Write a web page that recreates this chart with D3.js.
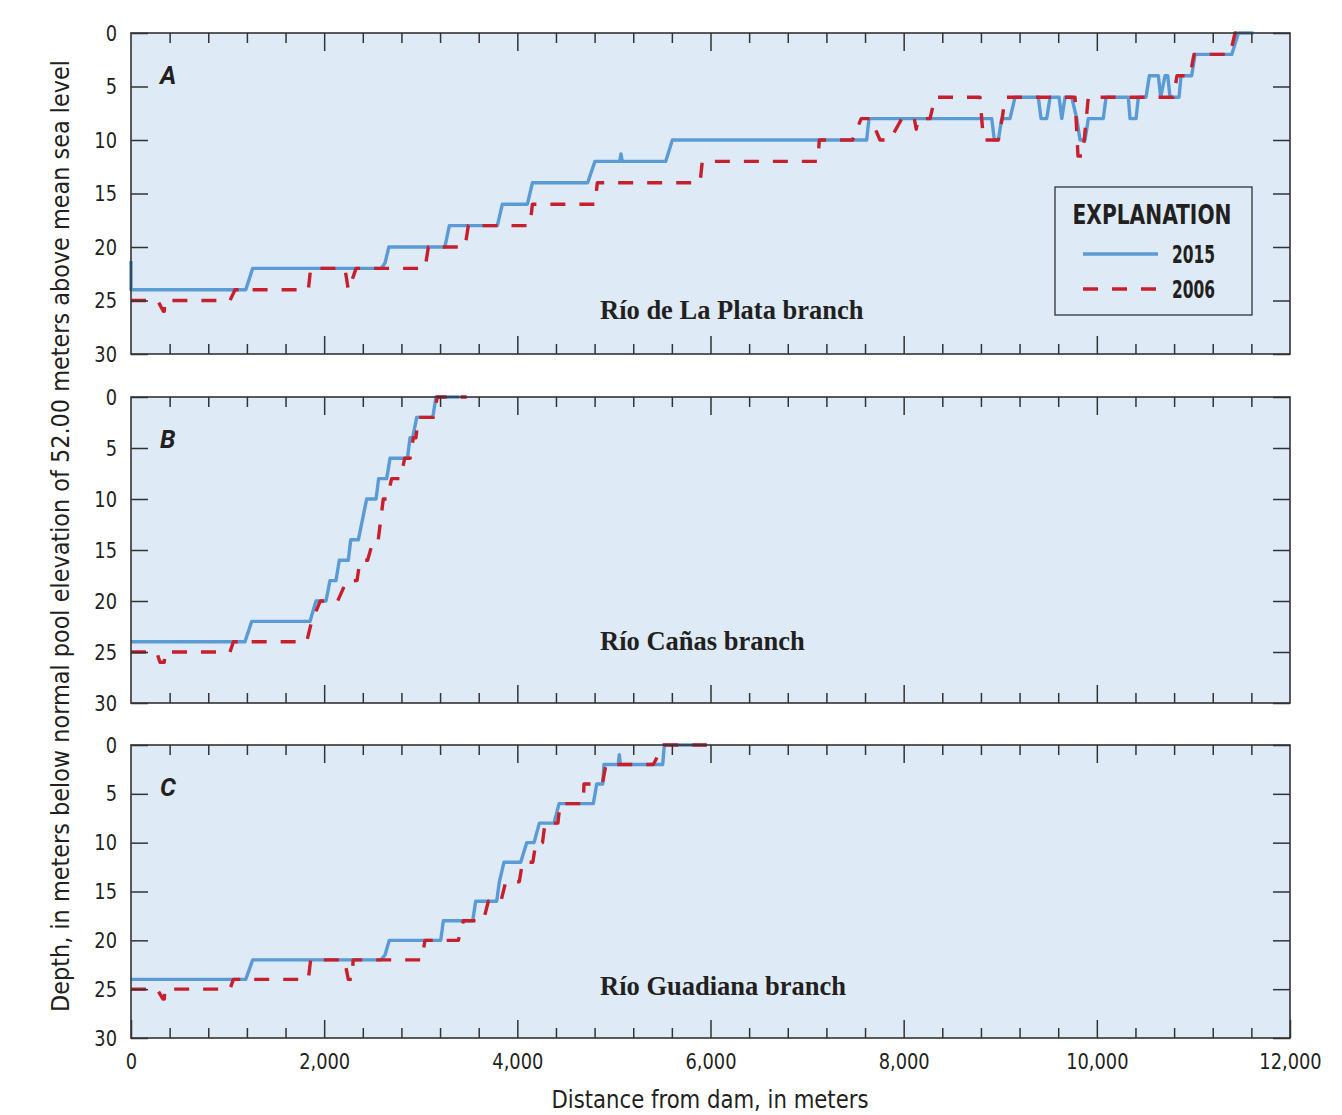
<!DOCTYPE html>
<html>
<head>
<meta charset="utf-8">
<script src="https://cdn.jsdelivr.net/npm/d3@7"></script>
<style>
  body { margin: 0; background: #fff; }
  svg text { fill: #231f20; }
  .cond { font-family: "Liberation Sans Narrow", "DejaVu Sans Condensed", "Roboto Condensed", Roboto, sans-serif; }
  .serif { font-family: "Liberation Serif", "DejaVu Serif", serif; font-weight: bold; }
</style>
</head>
<body>
<div id="chart"></div>
<script>
// [distance from dam (m), depth (m)]
const plata2015 = [
  [0, 21.3], [0, 24], [1188, 24], [1260, 22], [2590, 22], [2630, 21.5], [2670, 20],
  [3250, 20], [3296, 18], [3793, 18], [3845, 16], [4104, 16], [4156, 14],
  [4728, 14], [4804, 12], [5060, 12], [5073, 11.3], [5086, 12], [5536, 12], [5605, 10],
  [7617, 10], [7641, 8], [8912, 8], [8939, 10], [8980, 10], [9015, 8], [9101, 8], [9153, 6],
  [9394, 6], [9422, 8], [9481, 8], [9516, 6], [9609, 6], [9637, 8], [9671, 6],
  [9740, 6], [9792, 8], [9826, 10], [9878, 10], [9912, 8], [10067, 8], [10095, 6],
  [10326, 6], [10344, 8], [10406, 8], [10430, 6], [10509, 6], [10544, 4], [10637, 4],
  [10661, 6], [10706, 4], [10734, 4], [10758, 6], [10851, 6], [10872, 4], [10982, 4],
  [11017, 2], [11397, 2], [11466, 0], [11621, 0]
]
const plata2006 = [
  [0, 25], [275, 25], [335, 26], [345, 26], [350, 25], [1025, 25], [1077, 24],
  [1836, 24], [1860, 22], [2215, 22], [2250, 24], [2300, 22.8], [2330, 22], [3044, 22], [3079, 20],
  [3458, 20], [3493, 18], [4131, 18], [4156, 16], [4804, 16], [4828, 14],
  [5892, 14], [5915, 12], [7110, 12], [7127, 10], [7470, 10], [7560, 8], [7660, 8],
  [7755, 10], [7859, 10], [7980, 8], [8110, 8], [8130, 9], [8150, 8], [8273, 8], [8325, 6],
  [8790, 6], [8826, 10], [8980, 10], [9020, 8], [9050, 6], [9774, 6], [9805, 11.5],
  [9853, 11.5], [9912, 6], [10792, 6], [10830, 4], [10965, 4], [11006, 2],
  [11379, 2], [11431, 0], [11552, 0]
]
const canas2015 = [
  [0, 24], [1180, 24], [1250, 22], [1853, 22], [1915, 20], [2019, 20], [2060, 18],
  [2122, 18], [2157, 16], [2250, 16], [2275, 14], [2354, 14], [2440, 10], [2537, 10],
  [2564, 8], [2647, 8], [2682, 6], [2862, 6], [2889, 4], [2916, 4], [2958, 2],
  [3124, 2], [3158, 0], [3400, 0]
]
const canas2006 = [
  [0, 25], [266, 25], [300, 26], [345, 26], [352, 25], [1025, 25], [1060, 24],
  [1819, 24], [1870, 22], [1960, 20], [2140, 20], [2233, 18], [2340, 18], [2371, 16],
  [2450, 16], [2509, 14], [2560, 14], [2612, 10], [2650, 10], [2699, 8], [2790, 8],
  [2834, 6], [2890, 6], [2923, 4], [2950, 4], [2975, 2], [3130, 2], [3172, 0], [3476, 0]
]
const guadiana2015 = [
  [0, 24], [1188, 24], [1260, 22], [2589, 22], [2630, 21.5], [2674, 20], [3207, 20],
  [3234, 18], [3538, 18], [3569, 16], [3786, 16], [3814, 14], [3862, 12], [4035, 12],
  [4097, 10], [4173, 10], [4228, 8], [4380, 8], [4432, 6], [4787, 6], [4822, 4],
  [4884, 4], [4897, 2], [5045, 2], [5056, 1], [5067, 2], [5505, 2], [5522, 0], [5961, 0]
]
const guadiana2006 = [
  [0, 25], [270, 25], [330, 26], [345, 26], [350, 25], [1025, 25], [1060, 24],
  [1836, 24], [1860, 22], [2210, 22], [2250, 24], [2290, 24], [2300, 22], [3010, 22],
  [3044, 20], [3389, 20], [3441, 18], [3648, 18], [3700, 16], [3830, 16], [3880, 14],
  [4020, 14], [4054, 12], [4160, 12], [4193, 10], [4260, 10], [4287, 8], [4420, 8],
  [4442, 6], [4683, 6], [4690, 4], [4880, 4], [4918, 2], [5408, 2], [5512, 0], [5961, 0]
]

const panelNames = ['A', 'B', 'C']
const branchNames = ['Río de La Plata branch', 'Río Cañas branch', 'Río Guadiana branch']
const series2015 = [plata2015, canas2015, guadiana2015]
const series2006 = [plata2006, canas2006, guadiana2006]
const depthTicks = [0, 5, 10, 15, 20, 25, 30]
const majorDist = [2000, 4000, 6000, 8000, 10000]
const minorDist = d3.range(400, 12000, 400).filter((d) => d % 2000 !== 0)
const legendYears = ['2015', '2006']

const width = 1342
const height = 1115
const left = 131
const right = 1290
// panel top / bottom in pixels
const frames = [[33, 354], [397, 703], [745, 1038]]

const blue = '#5b9bd5'
const red = '#c81f2d'
const ink = '#333'

const svg = d3.select('#chart').append('svg')
  .attr('width', width)
  .attr('height', height)

const xs = d3.scaleLinear().domain([0, 12000]).range([left, right])

// squeeze text a bit so it reads like the condensed face of the original
function narrow (sel, k) {
  sel.each(function () {
    const len = this.getComputedTextLength()
    d3.select(this).attr('textLength', len * k).attr('lengthAdjust', 'spacingAndGlyphs')
  })
}

frames.forEach(([top, bottom], i) => {
  const ys = d3.scaleLinear().domain([0, 30]).range([top, bottom])
  const g = svg.append('g')

  g.append('rect')
    .attr('x', left).attr('y', top)
    .attr('width', right - left).attr('height', bottom - top)
    .attr('fill', '#deebf7')

  // lines
  const line = d3.line().x((d) => xs(d[0])).y((d) => ys(d[1]))
  g.append('path')
    .attr('d', line(series2015[i]))
    .attr('fill', 'none')
    .attr('stroke', blue)
    .attr('stroke-width', 3.4)
    .attr('stroke-linejoin', 'round')
  g.append('path')
    .attr('d', line(series2006[i]))
    .attr('fill', 'none')
    .attr('stroke', red)
    .attr('stroke-width', 3.4)
    .attr('stroke-dasharray', '15 14')
    .attr('stroke-linejoin', 'round')

  // axes, ticks pointing inward
  const yLeft = g.append('g')
    .attr('transform', `translate(${left},0)`)
    .call(d3.axisLeft(ys).tickValues(depthTicks).tickSize(-17).tickPadding(14))
  const yRight = g.append('g')
    .attr('transform', `translate(${right},0)`)
    .call(d3.axisRight(ys).tickValues(depthTicks).tickSize(-17).tickFormat(''))
  const topMajor = g.append('g')
    .attr('transform', `translate(0,${top})`)
    .call(d3.axisTop(xs).tickValues(majorDist).tickSize(-18).tickFormat(''))
  const topMinor = g.append('g')
    .attr('transform', `translate(0,${top})`)
    .call(d3.axisTop(xs).tickValues(minorDist).tickSize(-10).tickFormat(''))
  const botMinor = g.append('g')
    .attr('transform', `translate(0,${bottom})`)
    .call(d3.axisBottom(xs).tickValues(minorDist).tickSize(-10).tickFormat(''))
  const botMajor = g.append('g')
    .attr('transform', `translate(0,${bottom})`)
    .call(d3.axisBottom(xs)
      .tickValues(i === 2 ? [0].concat(majorDist, [12000]) : majorDist)
      .tickSize(-18).tickPadding(15)
      .tickFormat(i === 2 ? d3.format(',') : ''))

  for (const ax of [yLeft, yRight, topMajor, topMinor, botMinor, botMajor]) {
    ax.select('.domain').remove()
    ax.selectAll('line').attr('stroke', ink).attr('stroke-width', 1.5)
    ax.selectAll('text')
      .attr('class', 'cond')
      .style('font-size', '22px')
      .attr('fill', '#231f20')
      .call(narrow, 0.9)
  }

  // frame
  g.append('rect')
    .attr('x', left).attr('y', top)
    .attr('width', right - left).attr('height', bottom - top)
    .attr('fill', 'none')
    .attr('stroke', ink)
    .attr('stroke-width', 1.6)

  g.append('text')
    .attr('x', 160).attr('y', top + 51)
    .style('font-family', 'Roboto, "Liberation Sans", sans-serif')
    .style('font-weight', 'bold')
    .style('font-style', 'italic')
    .style('font-size', '25px')
    .text(panelNames[i])

  g.append('text')
    .attr('class', 'serif')
    .attr('x', 600)
    .attr('y', [319, 650, 995][i])
    .style('font-size', '26.5px')
    .text(branchNames[i])
})

// legend
const lg = svg.append('g')
lg.append('rect')
  .attr('x', 1055).attr('y', 187)
  .attr('width', 197).attr('height', 128)
  .attr('fill', 'none')
  .attr('stroke', ink)
  .attr('stroke-width', 1.3)
lg.append('text')
  .attr('class', 'cond')
  .attr('x', 1152).attr('y', 224)
  .attr('text-anchor', 'middle')
  .attr('textLength', 159)
  .attr('lengthAdjust', 'spacingAndGlyphs')
  .style('font-size', '27px')
  .style('font-weight', 'bold')
  .text('EXPLANATION')
legendYears.forEach((yr, k) => {
  const yy = 254 + k * 35
  lg.append('line')
    .attr('x1', 1083).attr('x2', 1158)
    .attr('y1', yy).attr('y2', yy)
    .attr('stroke', k === 0 ? blue : red)
    .attr('stroke-width', 3.4)
    .attr('stroke-dasharray', k === 0 ? null : '15 14')
  lg.append('text')
    .attr('class', 'cond')
    .attr('x', 1172).attr('y', yy + 9)
    .attr('textLength', 43)
    .attr('lengthAdjust', 'spacingAndGlyphs')
    .style('font-size', '24px')
    .style('font-weight', 'bold')
    .text(yr)
})

// axis titles
svg.append('text')
  .attr('class', 'cond')
  .attr('transform', 'rotate(-90)')
  .attr('x', -536).attr('y', 69)
  .attr('text-anchor', 'middle')
  .attr('textLength', 952)
  .attr('lengthAdjust', 'spacingAndGlyphs')
  .style('font-size', '25px')
  .text('Depth, in meters below normal pool elevation of 52.00 meters above mean sea level')
svg.append('text')
  .attr('class', 'cond')
  .attr('x', 710).attr('y', 1108)
  .attr('text-anchor', 'middle')
  .attr('textLength', 317)
  .attr('lengthAdjust', 'spacingAndGlyphs')
  .style('font-size', '24px')
  .text('Distance from dam, in meters')
</script>
</body>
</html>
